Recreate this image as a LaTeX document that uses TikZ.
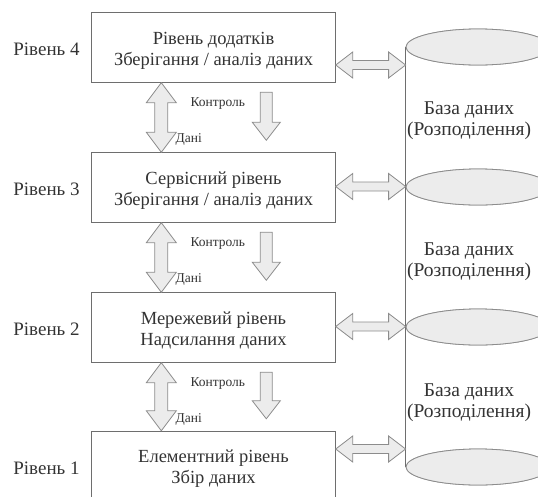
\documentclass[tikz,border=0pt]{standalone}
\usepackage{fontspec}
\setmainfont{Liberation Serif}
\usetikzlibrary{calc,shapes.geometric}

\definecolor{ink}{HTML}{333333}
\definecolor{frame}{HTML}{6E6E6E}
\definecolor{soft}{HTML}{8C8C8C}
\definecolor{shade}{HTML}{ECECEC}

\tikzset{
  layerbox/.style={draw=frame, line width=0.9pt, fill=white, minimum width=243.5pt,
    minimum height=69.5pt, inner sep=0pt},
  boxtext/.style={text=ink, align=center, inner sep=0pt,
    font=\fontsize{18.5}{21}\selectfont},
  sidelabel/.style={text=ink, font=\fontsize{19}{21}\selectfont, inner sep=0pt},
  dblabel/.style={text=ink, align=center, font=\fontsize{19.5}{21}\selectfont, inner sep=0pt},
  flowlabel/.style={text=ink, font=\fontsize{13.5}{14}\selectfont, inner sep=0pt},
  disk/.style={ellipse, draw=soft, line width=0.8pt, fill=shade, minimum width=144pt,
    minimum height=36pt, inner sep=0pt},
  blockarrow/.style={draw=soft, line width=0.8pt, fill=shade, line join=miter},
  cylside/.style={draw=frame, line width=0.9pt}
}

% two-headed horizontal block arrow, left tip #1, right tip #2
\newcommand\hdoublearrow[2]{%
  \draw[blockarrow] let \p1=(#1), \p2=(#2) in
    (\x1,\y1) -- (\x1+17pt,\y1+13pt) -- (\x1+17pt,\y1+4.5pt) -- (\x2-17pt,\y1+4.5pt)
    -- (\x2-17pt,\y1+13pt) -- (\x2,\y1) -- (\x2-17pt,\y1-13pt) -- (\x2-17pt,\y1-4.5pt)
    -- (\x1+17pt,\y1-4.5pt) -- (\x1+17pt,\y1-13pt) -- cycle;}
% two-headed vertical block arrow, upper tip #1, lower tip #2
\newcommand\vdoublearrow[2]{%
  \draw[blockarrow] let \p1=(#1), \p2=(#2) in
    (\x1,\y1) -- (\x1+15pt,\y1-20pt) -- (\x1+6.5pt,\y1-20pt) -- (\x1+6.5pt,\y2+20pt)
    -- (\x1+15pt,\y2+20pt) -- (\x1,\y2) -- (\x1-15pt,\y2+20pt) -- (\x1-6.5pt,\y2+20pt)
    -- (\x1-6.5pt,\y1-20pt) -- (\x1-15pt,\y1-20pt) -- cycle;}
% downward block arrow, shaft top #1, tip #2
\newcommand\downarrowblock[2]{%
  \draw[blockarrow] let \p1=(#1), \p2=(#2) in
    (\x1-6pt,\y1) -- (\x1+6pt,\y1) -- (\x1+6pt,\y2+18pt) -- (\x1+14pt,\y2+18pt)
    -- (\x1,\y2) -- (\x1-14pt,\y2+18pt) -- (\x1-6pt,\y2+18pt) -- cycle;}

\begin{document}
\begin{tikzpicture}[x=1pt, y=-1pt]
  \useasboundingbox (0,0) rectangle (538,496);
  \clip (0,0) rectangle (538,496);

  % layer boxes and their titles
  \node[layerbox] (lvl4) at (213.5,47.5)  {};
  \node[layerbox] (lvl3) at (213.5,187.5) {};
  \node[layerbox] (lvl2) at (213.5,327.5) {};
  \node[layerbox] (lvl1) at (213.5,466)   {};
  \node[boxtext] (lvl4txt) at ($(lvl4)+(0,3)$) {Рівень додатків\\Зберігання / аналіз даних};
  \node[boxtext] (lvl3txt) at ($(lvl3)+(0,3)$) {Сервісний рівень\\Зберігання / аналіз даних};
  \node[boxtext] (lvl2txt) at ($(lvl2)+(0,3)$) {Мережевий рівень\\Надсилання даних};
  \node[boxtext] (lvl1txt) at ($(lvl1)+(0,3)$) {Елементний рівень\\Збір даних};

  % level captions
  \node[sidelabel] (cap4) at (46.5,49.5)  {Рівень 4};
  \node[sidelabel] (cap3) at (46.5,189.5) {Рівень 3};
  \node[sidelabel] (cap2) at (46.5,329.5) {Рівень 2};
  \node[sidelabel] (cap1) at (46.5,468.5) {Рівень 1};

  % distributed database cylinder
  \node[disk] (e4) at (478,47)  {};
  \node[disk] (e3) at (478,187) {};
  \node[disk] (e2) at (478,327) {};
  \node[disk] (e1) at (478,467) {};
  \draw[cylside] (e4.west) -- (e1.west);
  \draw[cylside] (e4.east) -- (e1.east);
  \node[disk] at (e4) {};
  \node[disk] at (e3) {};
  \node[disk] at (e2) {};
  \node[disk] at (e1) {};

  \node[dblabel] (db43) at (469,120.5) {База даних\\(Розподілення)};
  \node[dblabel] (db32) at (469,261.5) {База даних\\(Розподілення)};
  \node[dblabel] (db21) at (469,402.5) {База даних\\(Розподілення)};

  % links between layers and the database
  \coordinate (h4a) at (lvl4.east |- 0,65);    \coordinate (h4b) at (e4.west |- 0,65);
  \coordinate (h3a) at (lvl3.east |- 0,186.5); \coordinate (h3b) at (e3.west |- 0,186.5);
  \coordinate (h2a) at (lvl2.east |- 0,326.5); \coordinate (h2b) at (e2.west |- 0,326.5);
  \coordinate (h1a) at (lvl1.east |- 0,449);   \coordinate (h1b) at (e1.west |- 0,449);
  \hdoublearrow{h4a}{h4b}
  \hdoublearrow{h3a}{h3b}
  \hdoublearrow{h2a}{h2b}
  \hdoublearrow{h1a}{h1b}

  % data and control flows between neighbouring layers
  \foreach \up/\dn in {lvl4/lvl3, lvl3/lvl2, lvl2/lvl1}{
    \coordinate (dt) at ($(\up.south west)+(70,0)$);
    \coordinate (db) at ($(\dn.north west)+(70,0)$);
    \vdoublearrow{dt}{db}
    \coordinate (ct) at ($(\up.south west)+(175,9.5)$);
    \coordinate (cb) at ($(\dn.north west)+(175,-12)$);
    \downarrowblock{ct}{cb}
    \node[flowlabel] at ($(\up.south west)+(126.5,20.5)$) {Контроль};
    \node[flowlabel] at ($(\up.south west)+(97.5,57)$) {Дані};
  }
\end{tikzpicture}
\end{document}
